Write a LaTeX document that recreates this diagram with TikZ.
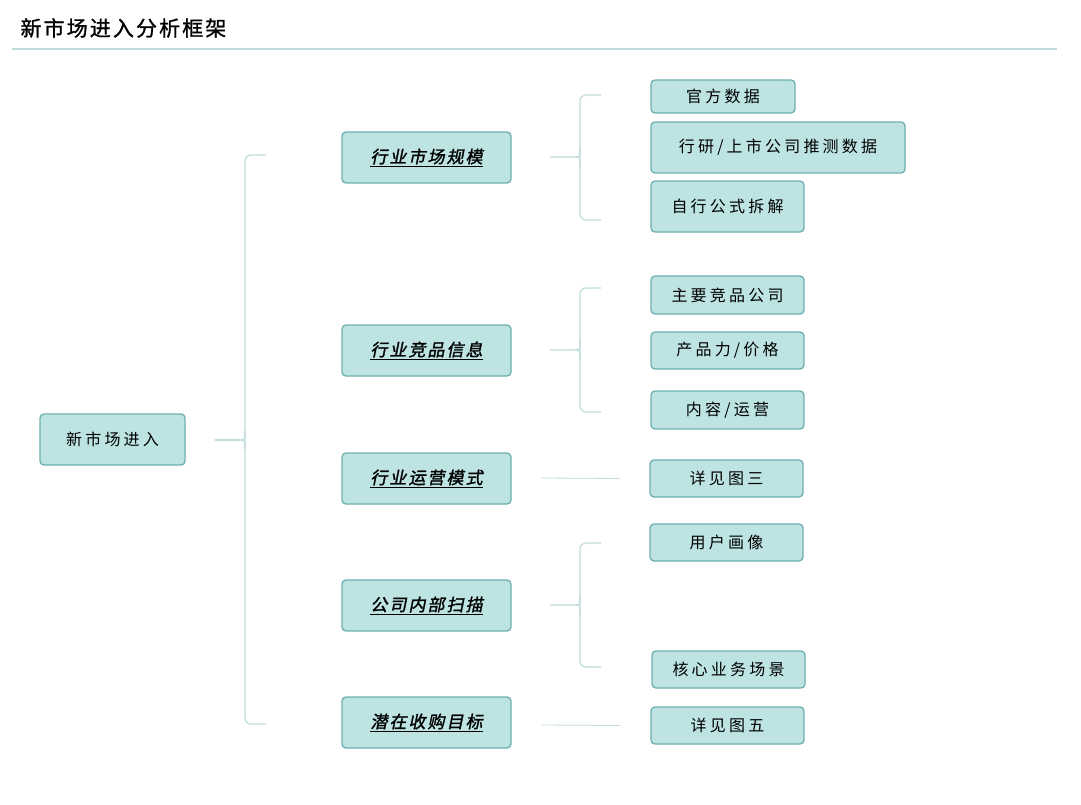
\documentclass[tikz,border=0pt]{standalone}
\usepackage{fontspec}
\setmainfont{Noto Sans CJK SC}[LetterSpace=20]
\newfontfamily\cjkslant{Noto Sans CJK SC}[FakeSlant=0.2,FakeBold=1.5,LetterSpace=12]
\newfontfamily\cjktitle{Noto Sans CJK SC}[FakeBold=1,LetterSpace=10]
\usetikzlibrary{calc}
\definecolor{boxfill}{HTML}{BDE3E3}
\definecolor{boxline}{HTML}{6FAFAF}
\definecolor{brk}{HTML}{BFDCDC}
\tikzset{x=1pt,y=-1pt,
 box/.style={draw=boxline,line width=1.3pt,fill=boxfill,rounded corners=4pt,inner sep=0pt,font=\fontsize{16}{16}\selectfont},
 mid/.style={box,font=\cjkslant\fontsize{17}{17}\selectfont},
 br/.style={draw=brk,line width=1.2pt,rounded corners=6pt},
 ln/.style={draw=brk,line width=0.8pt}}
\newcommand\bx[6]{\node[#1,minimum width=#4pt-#3pt,minimum height=#6pt-#5pt] (#2) at ({(#3+#4)/2},{(#5+#6)/2})}
\begin{document}
\begin{tikzpicture}
\useasboundingbox (0,0) rectangle (1081,804);
\fill[white] (0,0) rectangle (1081,804);
\node[anchor=west,font=\cjktitle\fontsize{21}{21}\selectfont] (title) at (17,28) {新市场进入分析框架};
\draw[brk,line width=1.2pt] (12,49) -- (1057,49);
\bx{box}{root}{40}{185}{414}{465} {新市场进入};
\bx{mid}{a}{342}{511}{132}{183} {\underline{行业市场规模}};
\bx{mid}{b}{342}{511}{325}{376} {\underline{行业竞品信息}};
\bx{mid}{c}{342}{511}{453}{504} {\underline{行业运营模式}};
\bx{mid}{d}{342}{511}{580}{631} {\underline{公司内部扫描}};
\bx{mid}{e}{342}{511}{697}{748} {\underline{潜在收购目标}};
\bx{box}{a1}{651}{795}{80}{113} {官方数据};
\bx{box}{a2}{651}{905}{122}{173} {行研/上市公司推测数据};
\bx{box}{a3}{651}{804}{181}{232} {自行公式拆解};
\bx{box}{b1}{651}{804}{276}{314} {主要竞品公司};
\bx{box}{b2}{651}{804}{332}{369} {产品力/价格};
\bx{box}{b3}{651}{804}{391}{429} {内容/运营};
\bx{box}{c1}{650}{803}{460}{497} {详见图三};
\bx{box}{d1}{650}{803}{524}{561} {用户画像};
\bx{box}{d2}{652}{805}{651}{688} {核心业务场景};
\bx{box}{e1}{651}{804}{707}{744} {详见图五};
% big bracket
\draw[br] (266,155) -- (245,155) -- (245,724) -- (266,724);
\draw[br,rounded corners=0] (215,440) -- (240,440);
\draw[br] (240,440) .. controls (245,440) .. (245,430);
\draw[br] (240,440) .. controls (245,440) .. (245,450);
% small brackets
\foreach \t/\m/\b in {95/157/220, 288/350/412, 543/605/667}{
 \draw[br] (601,\t) -- (580,\t) -- (580,\b) -- (601,\b);
 \draw[br,rounded corners=0] (550,\m) -- (575,\m) .. controls (580,\m) .. (580,\m-10);
 \draw[br,rounded corners=0] (575,\m) .. controls (580,\m) .. (580,\m+10);
}
\draw[ln] ($(c.east)+(30,-0.5)$) -- ($(c1.west)+(-30,0)$);
\draw[ln] ($(e.east)+(30,2.5)$) -- ($(e1.west)+(-30,0)$);
\end{tikzpicture}
\end{document}
